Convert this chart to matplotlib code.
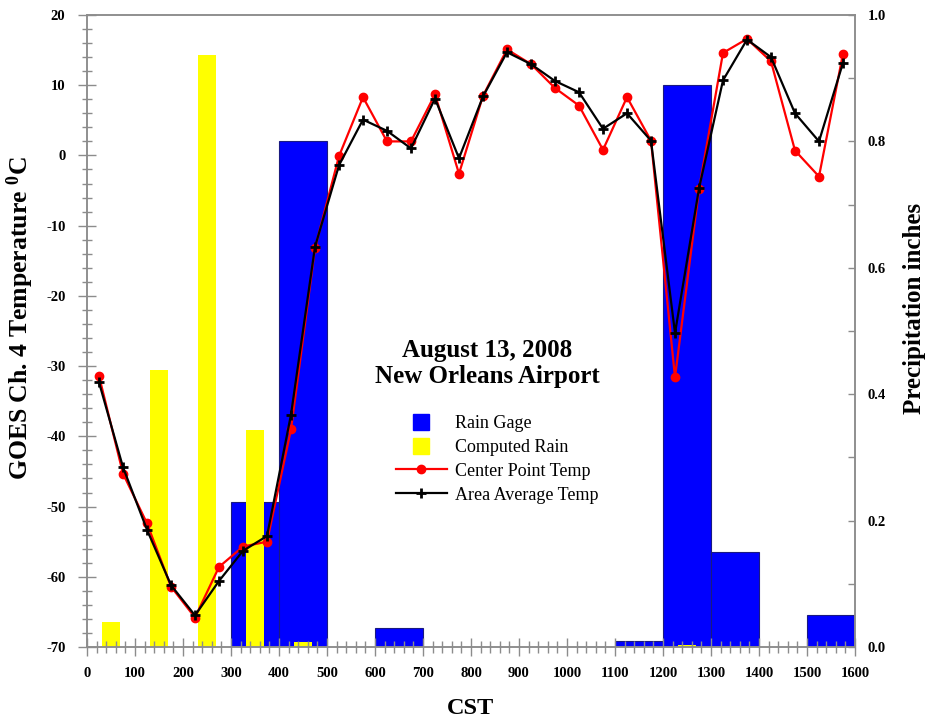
import matplotlib
matplotlib.use("Agg")
import matplotlib.pyplot as plt
from matplotlib.lines import Line2D
from matplotlib.ticker import MultipleLocator, FormatStrFormatter

plt.rcParams['font.family'] = ['Liberation Serif', 'DejaVu Serif']
plt.rcParams['mathtext.fontset'] = 'custom'
plt.rcParams['mathtext.rm'] = 'Liberation Serif'
plt.rcParams['mathtext.bf'] = 'Liberation Serif:bold'
plt.rcParams['axes.unicode_minus'] = False

# Temperature time stamps (CST)
time = [25, 75, 125, 175, 225, 275, 325, 375, 425, 475, 525, 575, 625, 675, 725,
        775, 825, 875, 925, 975, 1025, 1075, 1125, 1175, 1225, 1275, 1325, 1375,
        1425, 1475, 1525, 1575]
center_temp = [-31.4, -45.3, -52.4, -61.4, -65.8, -58.6, -55.7, -55.0, -39.0, -13.2,
               -0.1, 8.3, 2.0, 2.0, 8.7, -2.6, 8.5, 15.1, 13.0, 9.6, 7.1, 0.8, 8.3,
               2.1, -31.6, -4.8, 14.6, 16.6, 13.4, 0.7, -3.0, 14.5]
area_temp = [-32.3, -44.4, -53.3, -61.2, -65.5, -60.6, -56.3, -54.2, -36.9, -13.0,
             -1.4, 5.1, 3.5, 1.0, 8.1, -0.4, 8.4, 14.7, 13.0, 10.6, 9.0, 3.8, 6.0,
             2.1, -25.3, -4.7, 10.7, 16.5, 14.0, 6.0, 2.0, 13.2]

# Rain gage (hourly, left edge of hour)
gage_start = [300, 400, 600, 1100, 1200, 1300, 1500]
gage_precip = [0.23, 0.80, 0.03, 0.01, 0.89, 0.15, 0.05]

# Computed rain (centers)
comp_time = [50, 150, 250, 350, 450, 1250]
comp_precip = [0.040, 0.438, 0.937, 0.343, 0.008, 0.003]

W, H = 927, 719
fig = plt.figure(figsize=(W / 100, H / 100), dpi=100)
ax = fig.add_axes([87 / W, 1 - 647 / H, 768 / W, 632 / H])
ax2 = ax.twinx()

# bars on precipitation axis
ax2.bar(gage_start, gage_precip, width=100, align='edge', color='#0000ff',
        edgecolor='#1a1a80', linewidth=0.8, zorder=1)
ax2.bar(comp_time, comp_precip, width=37.5, align='center', color='#ffff00',
        edgecolor='none', zorder=2)
ax2.set_ylim(0, 1.0)

# lines on temperature axis (drawn above bars)
ax.set_zorder(ax2.get_zorder() + 1)
ax.patch.set_visible(False)
ax.plot(time, center_temp, color='#ff0000', lw=1.6, marker='o', ms=6,
        label='Center Point Temp', zorder=3)
ax.plot(time, area_temp, color='black', lw=1.6, marker='+', ms=7, mew=2.0,
        label='Area Average Temp', zorder=4)

ax.set_xlim(0, 1600)
ax.set_ylim(-70, 20)

gray = '#8c8c8c'
for a in (ax, ax2):
    for s in a.spines.values():
        s.set_color(gray)
        s.set_linewidth(1.1)

ax.xaxis.set_major_locator(MultipleLocator(100))
ax.xaxis.set_minor_locator(MultipleLocator(20))
ax.yaxis.set_major_locator(MultipleLocator(10))
ax.yaxis.set_minor_locator(MultipleLocator(2))
ax.tick_params(axis='both', which='major', direction='inout', length=13,
               width=1.0, color=gray, labelsize=10.5)
ax.tick_params(axis='y', which='minor', direction='inout', length=7,
               width=1.0, color=gray)
ax.tick_params(axis='x', which='minor', direction='inout', length=8,
               width=1.0, color=gray)
ax.tick_params(axis='y', which='major', pad=9)
ax.tick_params(axis='x', which='major', pad=8)
ax.tick_params(axis='x', top=False, which='both')
for lbl in ax.get_xticklabels() + ax.get_yticklabels():
    lbl.set_fontweight('bold')

ax2.yaxis.set_major_locator(MultipleLocator(0.2))
ax2.yaxis.set_minor_locator(MultipleLocator(0.1))
ax2.yaxis.set_major_formatter(FormatStrFormatter('%.1f'))
ax2.tick_params(axis='y', which='both', direction='in', length=5, width=1.0,
                color=gray, labelsize=10.5, pad=9)
for lbl in ax2.get_yticklabels():
    lbl.set_fontweight('bold')

ax.set_xlabel('CST', fontsize=17.5, fontweight='bold')
ax.xaxis.set_label_coords(0.5, -0.106)
ax.xaxis.label.set_verticalalignment('baseline')
ax.set_ylabel(r'GOES Ch. 4 Temperature $\mathbf{{}^{0}}$C', fontsize=18.5,
              fontweight='bold')
ax.yaxis.set_label_coords(-0.066, 0.52)
ax2.set_ylabel('Precipitation inches', fontsize=18, fontweight='bold')
ax2.yaxis.set_label_coords(1.062, 0.535)

ax.text(0.521, 0.4486, 'August 13, 2008\nNew Orleans Airport', transform=ax.transAxes,
        ha='center', va='center', fontsize=18, fontweight='bold', linespacing=1.17)

handles = [
    Line2D([], [], marker='s', color='#0000ff', ls='none', ms=12, label='Rain Gage'),
    Line2D([], [], marker='s', color='#ffff00', ls='none', ms=12, label='Computed Rain'),
    Line2D([], [], color='#ff0000', lw=1.6, marker='o', ms=6, label='Center Point Temp'),
    Line2D([], [], color='black', lw=1.6, marker='+', ms=7, mew=2.0, label='Area Average Temp'),
]
ax.legend(handles=handles, loc='upper left', bbox_to_anchor=(396 / W, 1 - 415 / H),
          bbox_transform=fig.transFigure, frameon=False, fontsize=13,
          handlelength=2.8, handletextpad=0.45, labelspacing=0.38, borderpad=0,
          borderaxespad=0)

fig.savefig('out.png', dpi=100)
